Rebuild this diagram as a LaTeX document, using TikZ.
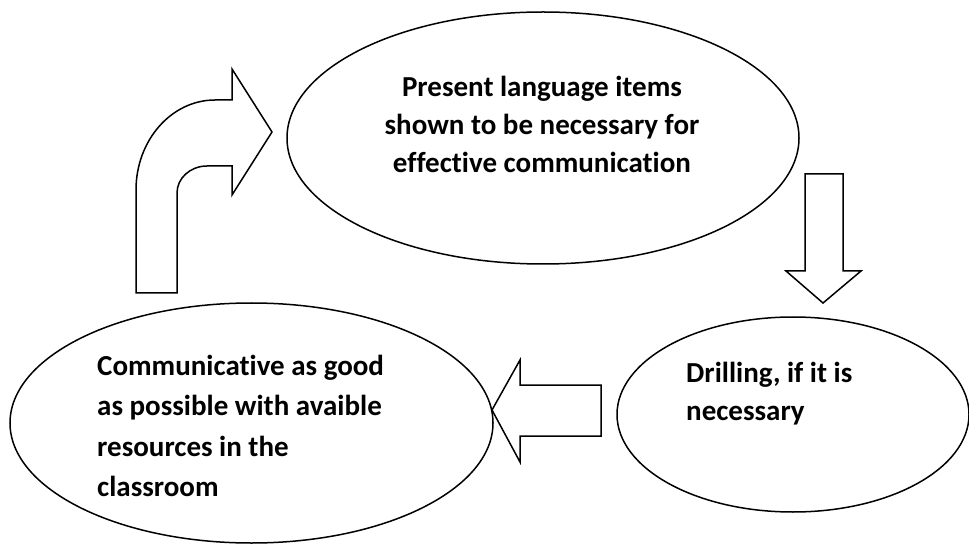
\documentclass[tikz,border=0pt]{standalone}
\usepackage{fontspec}
\setmainfont[Ligatures=NoCommon]{Carlito}
\usetikzlibrary{shapes.geometric}
\tikzset{
  bubble/.style={draw=black, line width=1.5pt, ellipse, inner sep=0pt},
  blockarrow/.style={draw=black, line width=1.5pt, fill=white, line join=miter},
  label/.style={inner sep=0pt, font=\bfseries\fontsize{29}{38}\selectfont}
}
\begin{document}
\begin{tikzpicture}[x=1pt,y=-1pt]
\useasboundingbox (0,0) rectangle (969,545);
% ellipses
\node[bubble, minimum width=512pt, minimum height=252pt] (present) at (543,138) {};
\node[bubble, minimum width=352pt, minimum height=195pt] (drill) at (793,414.5) {};
\node[bubble, minimum width=483pt, minimum height=240pt] (comm) at (251.5,423) {};
% texts
\node[label, anchor=base] (t1) at (542,97) {\vtop{\baselineskip=38pt\halign{\hfil#\hfil\cr Present language items\cr shown to be necessary for\cr effective communication\cr}}};
\node[label, anchor=base west] (t2) at (686,382) {\vtop{\baselineskip=38pt\hbox{Drilling, if it is}\hbox{necessary}}};
\node[label, anchor=base west] (t3) at (97,375) {\vtop{\baselineskip=40.5pt\hbox{Communicative as good}\hbox{as possible with avaible}\hbox{resources in the}\hbox{classroom}}};
% down arrow
\draw[blockarrow] (805,174) -- (843,174) -- (843,271) -- (861,271) -- (823,303) -- (786,271) -- (805,271) -- cycle;
% left arrow
\draw[blockarrow] (601,385) -- (601,436) -- (520,436) -- (520,462) -- (492,410) -- (520,360) -- (520,385) -- cycle;
% bent-up arrow
\draw[blockarrow] (136,293) -- (136,190) .. controls (136,140.3) and (171.4,100) .. (215,100) -- (232,100) -- (232,69) -- (272,132) -- (232,195) -- (232,166) -- (207,166) .. controls (190.4,166) and (177,178.1) .. (177,193) -- (177,293) -- cycle;
\end{tikzpicture}
\end{document}
